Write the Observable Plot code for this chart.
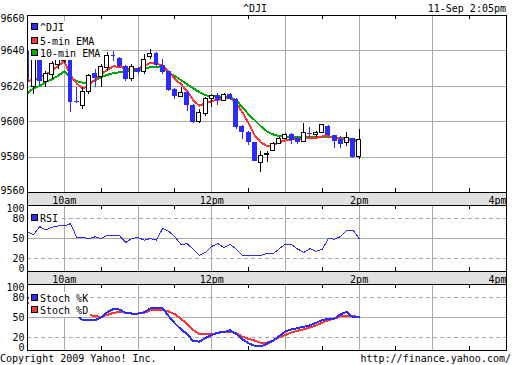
<!DOCTYPE html>
<html><head><meta charset="utf-8">
<script src="https://cdn.jsdelivr.net/npm/d3@7"></script>
<script src="https://cdn.jsdelivr.net/npm/@observablehq/plot@0.6"></script>
<style>
html,body{margin:0;padding:0;background:#fff;}
#root{position:relative;width:512px;height:365px;overflow:hidden;font-family:"DejaVu Sans Mono",monospace;font-size:10px;color:#000;}
.txt{position:absolute;white-space:nowrap;line-height:12px;z-index:4;}
.band{position:absolute;left:27px;width:480px;height:13px;background:#e0e0e0;box-sizing:border-box;border-left:1px solid #000;border-right:1px solid #000;z-index:0;}
.panel{position:absolute;left:0;z-index:1;}
.panel svg{display:block;shape-rendering:crispEdges;}
.leg{position:absolute;left:29px;height:13px;line-height:13px;padding-left:11px;padding-right:2px;background:#fff;white-space:nowrap;z-index:3;}
.sw{position:absolute;left:2px;top:2px;width:5px;height:5px;border:1px solid #000;}
</style></head>
<body><div id="root"></div>
<script>
// ---- data ----
const times = ["9:30","9:35","9:40","9:45","9:50","9:55","10:00","10:05","10:10","10:15","10:20","10:25","10:30","10:35","10:40","10:45","10:50","10:55","11:00","11:05","11:10","11:15","11:20","11:25","11:30","11:35","11:40","11:45","11:50","11:55","12:00","12:05","12:10","12:15","12:20","12:25","12:30","12:35","12:40","12:45","12:50","12:55","13:00","13:05","13:10","13:15","13:20","13:25","13:30","13:35","13:40","13:45","13:50","13:55","14:00"];
const open  = [9639.8,9619.4,9636.4,9622.3,9626.2,9631.9,9634.5,9635.3,9611.2,9608.7,9616.6,9627.4,9625.1,9630.2,9637.2,9635.9,9631.3,9624.0,9630.2,9627.8,9636.3,9638.7,9631.9,9628.3,9618.3,9614.2,9616.5,9609.3,9600.0,9604.6,9613.1,9614.9,9611.7,9615.5,9612.7,9597.5,9594.1,9588.1,9576.8,9581.1,9583.4,9587.6,9590.4,9592.8,9590.4,9588.7,9593.4,9592.3,9593.8,9597.2,9592.3,9590.0,9588.1,9590.4,9580.0];
const high  = [9645.0,9645.0,9637.6,9628.5,9634.2,9637.0,9638.0,9637.0,9619.4,9619.4,9626.8,9629.6,9632.5,9639.3,9639.8,9636.4,9631.9,9632.5,9630.8,9638.1,9641.0,9639.3,9635.3,9628.5,9618.5,9619.4,9616.6,9609.8,9607.0,9613.8,9615.5,9616.1,9616.1,9616.1,9613.0,9597.8,9594.3,9588.3,9583.4,9583.4,9588.3,9591.1,9593.4,9593.4,9591.9,9599.1,9596.6,9594.5,9598.7,9598.1,9592.3,9591.9,9594.1,9590.6,9595.7];
const low   = [9620.0,9615.5,9620.6,9619.4,9624.0,9629.6,9633.0,9605.3,9610.4,9607.0,9615.5,9619.4,9619.4,9628.5,9634.2,9630.8,9622.9,9622.9,9626.8,9626.8,9635.3,9631.3,9626.8,9617.2,9612.7,9613.8,9605.9,9599.1,9599.1,9603.0,9608.1,9609.3,9611.5,9612.1,9595.7,9590.0,9586.6,9577.5,9571.5,9576.8,9583.2,9587.2,9590.0,9587.2,9587.2,9588.3,9591.0,9591.0,9593.4,9591.7,9584.9,9584.7,9586.2,9579.2,9578.7];
const close = [9622.9,9642.7,9622.9,9626.8,9632.5,9634.7,9636.0,9611.0,9610.6,9616.6,9625.7,9624.6,9630.8,9637.0,9636.6,9631.3,9624.0,9630.8,9628.0,9635.0,9638.1,9631.5,9628.0,9617.9,9614.2,9616.1,9608.9,9599.8,9604.7,9612.7,9614.6,9611.7,9615.3,9612.7,9597.0,9593.8,9588.1,9577.7,9580.5,9581.6,9587.6,9590.4,9592.7,9589.6,9588.1,9593.8,9592.7,9593.8,9597.9,9592.3,9588.9,9587.2,9591.0,9579.6,9589.6];
const ema5  = [9622.9,9623.7,9625.1,9626.8,9628.8,9631.6,9634.2,9626.2,9621.7,9618.6,9620.6,9623.7,9626.8,9629.4,9631.3,9631.0,9630.2,9629.4,9629.9,9631.6,9633.3,9633.0,9631.5,9628.5,9624.0,9621.2,9617.2,9612.1,9609.0,9610.4,9611.7,9612.4,9612.9,9613.5,9610.4,9605.3,9599.1,9592.3,9588.3,9586.3,9586.6,9588.3,9589.6,9590.0,9590.4,9590.6,9590.8,9590.9,9591.7,9591.9,9590.8,9590.4,9590.0,9589.4,9589.0];
const ema10 = [9616.1,9618.9,9620.2,9622.6,9624.0,9626.0,9628.5,9625.1,9622.9,9622.0,9621.7,9623.4,9625.1,9626.5,9627.4,9627.9,9628.3,9628.5,9628.8,9629.9,9630.8,9631.1,9630.2,9627.9,9625.7,9623.4,9621.2,9618.9,9616.6,9614.9,9614.4,9614.2,9614.1,9613.8,9612.1,9608.1,9604.2,9600.8,9597.4,9594.5,9592.8,9591.9,9591.5,9591.4,9591.4,9591.4,9591.4,9591.4,9591.4,9591.4,9591.1,9590.8,9590.4,9590.0,9589.6];
const rsi   = [60,56,68,63,67,69,69,72.5,52,51.5,50,52.5,50,55,54,54,44,50,51.5,47.4,50,47.4,65.4,61,52.5,41,42,33.5,24.3,29,38,42.3,36.2,40.8,34,24.3,24.3,24.3,24.3,27.8,26.9,34.5,41.5,40.8,34,29,34.6,30.5,33.5,50,49,53,62.8,62.8,50];
const stochK = [79,80,80,80,78,76,74,73,53,46,46,46,50,58,63,62,57,56,56,58,63.8,63.8,63.8,52,41,32,25,14,13.5,19,23.5,27,28,30.5,25,17,11,7,6.5,10,15,22,29,32,34,36,38,42,46,48,48.5,55,58.6,50,51];
const stochD = [71.5,76,77,78,77,75,72,70,62,56,54,52,51,54,57,58.6,57,56,56,57,61,61,61,59,55,48,40,31,25,24.5,24.5,27,28.5,28.5,26,21,17.5,15,11.5,12,15,20,23.5,27.5,30,32,35,38,42,46,48,52,52.5,52,51];

const mainYTicks = [9560,9580,9600,9620,9640,9660];
const oscYTicks  = [0,20,50,80,100];
const oscDashed  = [20,80];
const oscSolid   = [50];
const hourLines  = ["10:00","11:00","12:00","13:00","14:00","15:00"];
const halfHours  = ["10:30","11:30","12:30","13:30","14:30","15:30"];
const timeLabelAt   = ["10:00","12:00","14:00","16:00"];
const timeLabelText = ["10am","12pm","2pm","4pm"];
const sessionStart = "9:30", sessionEnd = "16:00";

// ---- build ----
function toMin(s){const [h,m]=s.split(":").map(Number);return h*60+m;}
const rows = times.map((t,i)=>({t:toMin(t),o:open[i],h:high[i],l:low[i],c:close[i],e5:ema5[i],e10:ema10[i],rsi:rsi[i],k:stochK[i],d:stochD[i]}));
const up = rows.filter(d=>d.c>=d.o), down = rows.filter(d=>d.c<d.o);

const GRID="#aaaaaa", BLUE="#2b2bff", RED="#ff3333", GREEN="#00aa00";
const W=512, ML=27, MR=6;
const xOpt = {domain:[toMin(sessionStart),toMin(sessionEnd)], axis:null};
const style = {fontFamily:"'DejaVu Sans Mono', monospace", fontSize:"10px", background:"transparent", overflow:"visible", color:"black"};
const labMap = new Map(timeLabelAt.map((t,i)=>[toMin(t),timeLabelText[i]]));

function vGrid(){ return Plot.gridX(hourLines.map(toMin),{stroke:GRID,strokeOpacity:1}); }
function frameTicks(ph){
  return [
    Plot.ruleX(halfHours.map(toMin),{stroke:"black",insetBottom:ph-4}),
    Plot.ruleX(halfHours.map(toMin),{stroke:"black",insetTop:ph-4}),
    Plot.frame({stroke:"black"})
  ];
}
function timeAxis(){
  const t = timeLabelAt.map(toMin);
  return [
    Plot.axisX(t.slice(0,-1),{tickSize:0,tickPadding:4,tickFormat:d=>labMap.get(d),label:null}),
    Plot.axisX(t.slice(-1),{tickSize:0,tickPadding:4,tickFormat:d=>labMap.get(d),label:null,textAnchor:"end"})
  ];
}
function yAxis(ticks, dyLo, dyHi){
  return [
    Plot.axisY(ticks.slice(1,-1),{tickSize:0,tickPadding:3,label:null,tickFormat:"d"}),
    Plot.axisY(ticks.slice(0,1),{tickSize:0,tickPadding:3,label:null,tickFormat:"d",dy:dyLo}),
    Plot.axisY(ticks.slice(-1),{tickSize:0,tickPadding:3,label:null,tickFormat:"d",dy:dyHi})
  ];
}
function place(svg, top){
  const d=document.createElement("div"); d.className="panel"; d.style.top=top+"px"; d.appendChild(svg);
  document.getElementById("root").appendChild(d);
}
function addDiv(cls, css, html){
  const d=document.createElement("div"); d.className=cls; d.style.cssText=css; d.innerHTML=html;
  document.getElementById("root").appendChild(d);
}

// main price panel
const mainH=206, mainMT=15, mainMB=14, mainPH=mainH-mainMT-mainMB;
place(Plot.plot({
  width:W, height:mainH, marginLeft:ML, marginRight:MR, marginTop:mainMT, marginBottom:mainMB,
  x:xOpt, y:{domain:[mainYTicks[0],mainYTicks[mainYTicks.length-1]], axis:null},
  style,
  marks:[
    vGrid(),
    Plot.gridY(mainYTicks.slice(1,-1),{stroke:GRID,strokeOpacity:1}),
    Plot.line(rows,{x:"t",y:"e10",stroke:GREEN,strokeWidth:2,clip:true}),
    Plot.line(rows,{x:"t",y:"e5",stroke:RED,strokeWidth:2,clip:true}),
    Plot.ruleX(down,{x:"t",y1:"l",y2:"h",stroke:BLUE,clip:true}),
    Plot.ruleX(up,{x:"t",y1:"l",y2:"h",stroke:"black",clip:true}),
    Plot.rect(down,{x1:d=>d.t-2,x2:d=>d.t+2,y1:"o",y2:"c",fill:BLUE,clip:true}),
    Plot.rect(up,{x1:d=>d.t-1.6,x2:d=>d.t+1.6,y1:"o",y2:"c",fill:"white",stroke:"black",clip:true}),
    ...frameTicks(mainPH),
    ...yAxis(mainYTicks,-2,3),
    ...timeAxis()
  ]
}), 0);

// RSI panel
const oscMT=5;
place(Plot.plot({
  width:W, height:84, marginLeft:ML, marginRight:MR, marginTop:oscMT, marginBottom:13,
  x:xOpt, y:{domain:[0,100], axis:null},
  style,
  marks:[
    vGrid(),
    Plot.gridY(oscDashed,{stroke:GRID,strokeOpacity:1,strokeDasharray:"4,3"}),
    Plot.gridY(oscSolid,{stroke:GRID,strokeOpacity:1}),
    Plot.line(rows,{x:"t",y:"rsi",stroke:BLUE,strokeWidth:1,clip:true}),
    ...frameTicks(66),
    ...yAxis(oscYTicks,-2.5,3),
    ...timeAxis()
  ]
}), 200);

// Stochastic panel
place(Plot.plot({
  width:W, height:73, marginLeft:ML, marginRight:MR, marginTop:oscMT, marginBottom:2,
  x:xOpt, y:{domain:[0,100], axis:null},
  style,
  marks:[
    vGrid(),
    Plot.gridY(oscDashed,{stroke:GRID,strokeOpacity:1,strokeDasharray:"4,3"}),
    Plot.gridY(oscSolid,{stroke:GRID,strokeOpacity:1}),
    Plot.line(rows,{x:"t",y:"d",stroke:RED,strokeWidth:2,clip:true}),
    Plot.line(rows,{x:"t",y:"k",stroke:BLUE,strokeWidth:2,clip:true}),
    ...frameTicks(66),
    ...yAxis(oscYTicks,-2.5,3)
  ]
}), 279);

// time bands
addDiv("band","top:192px","");
addDiv("band","top:271px","");

// legends
addDiv("leg","top:21px",`<span class="sw" style="background:${BLUE}"></span>^DJI`);
addDiv("leg","top:35px",`<span class="sw" style="background:${RED}"></span>5-min EMA`);
addDiv("leg","top:47px",`<span class="sw" style="background:${GREEN}"></span>10-min EMA`);
addDiv("leg","top:212px",`<span class="sw" style="background:${BLUE}"></span>RSI`);
addDiv("leg","top:292px",`<span class="sw" style="background:${BLUE}"></span>Stoch %K`);
addDiv("leg","top:304px",`<span class="sw" style="background:${RED}"></span>Stoch %D`);

// titles and credits
addDiv("txt","top:3px;left:243px","^DJI");
addDiv("txt","top:3px;right:6px","11-Sep 2:05pm");
addDiv("txt","top:353px;left:0px","Copyright 2009 Yahoo! Inc.");
addDiv("txt","top:353px;right:1px","http://finance.yahoo.com/");
</script>
</body></html>
